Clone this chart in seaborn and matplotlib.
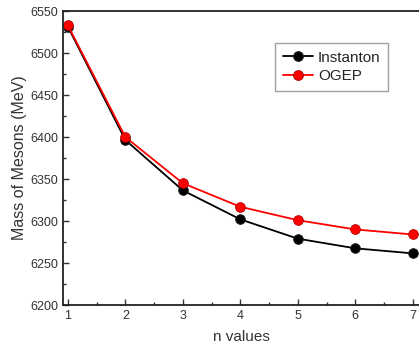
import pandas as pd
import matplotlib.pyplot as plt
import seaborn as sns
from matplotlib.ticker import MultipleLocator

sns.set_style("ticks")
plt.rcParams['font.family'] = ['Liberation Sans', 'DejaVu Sans']

# values
n_values = [1, 2, 3, 4, 5, 6, 7]
instanton = [6531.5, 6396.5, 6336.5, 6302, 6279, 6267.5, 6261.5]
ogep = [6533, 6400, 6345, 6317, 6301, 6290, 6284]

df = pd.DataFrame({
    "n": n_values * 2,
    "mass": instanton + ogep,
    "model": ["Instanton"] * len(n_values) + ["OGEP"] * len(n_values),
})

fig = plt.figure(figsize=(4.19, 3.47), dpi=100)
ax = fig.add_axes([0.150, 0.121, 0.853, 0.847])

sns.lineplot(data=df, x="n", y="mass", hue="model",
             palette={"Instanton": "black", "OGEP": "#ff0000"},
             marker="o", markersize=7, linewidth=1.3, ax=ax)

# darker outlines on the markers
for line, edge in zip(ax.lines[:2], ["#222222", "#b00000"]):
    line.set_markeredgecolor(edge)
    line.set_markeredgewidth(0.6)

ax.set_xlim(0.913, 7.13)
ax.set_ylim(6200, 6550)
ax.xaxis.set_major_locator(MultipleLocator(1))
ax.xaxis.set_minor_locator(MultipleLocator(0.5))
ax.yaxis.set_major_locator(MultipleLocator(50))
ax.yaxis.set_minor_locator(MultipleLocator(25))
ax.tick_params(which="both", direction="in", labelsize=9, width=1,
               colors="#333333", labelcolor="#333333")
ax.tick_params(which="major", length=4)
ax.tick_params(which="minor", length=2.5)
for sp in ax.spines.values():
    sp.set_linewidth(1.3)
    sp.set_color("#222222")

ax.set_xlabel("n values", fontsize=11, color="#333333", labelpad=6)
ax.set_ylabel("Mass of Mesons (MeV)", fontsize=11.5, color="#333333", labelpad=2)

leg = ax.legend(title=None, loc="upper left", bbox_to_anchor=(0.594, 0.891),
                borderaxespad=0, fontsize=11, frameon=True, fancybox=False,
                borderpad=0.5, handlelength=2.0, handletextpad=0.3,
                labelspacing=0.3)
leg.get_frame().set_edgecolor("#888888")
leg.get_frame().set_linewidth(1)
for h, edge in zip(leg.get_lines(), ["#222222", "#b00000"]):
    h.set_markeredgecolor(edge)

fig.savefig("out.png", dpi=100)
